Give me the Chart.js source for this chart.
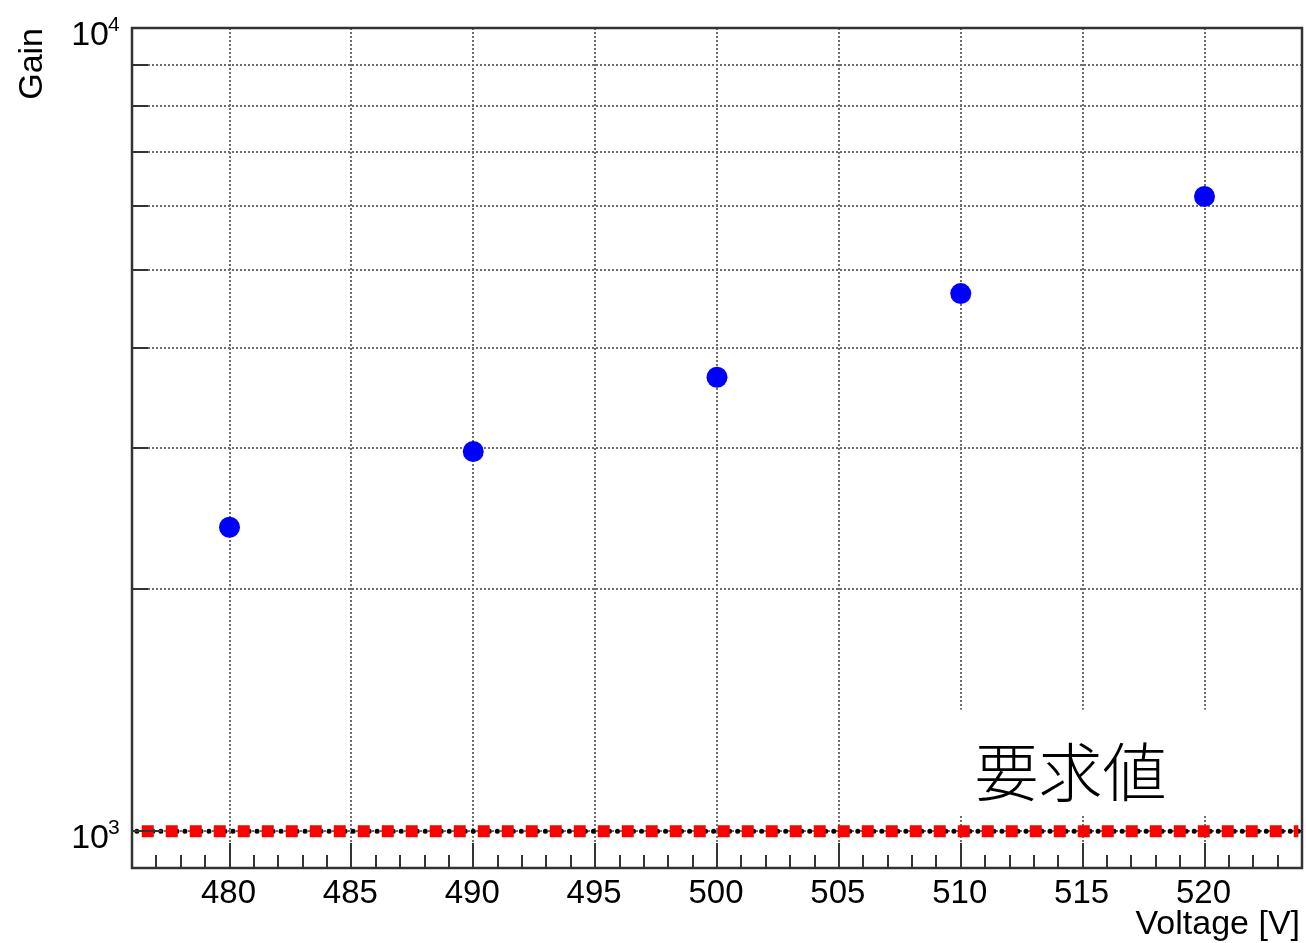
<!DOCTYPE html>
<html>
<head>
<meta charset="utf-8">
<script src="https://cdn.jsdelivr.net/npm/chart.js@4/dist/chart.umd.min.js"></script>
<style>
  html, body { margin: 0; padding: 0; background: #ffffff; }
  canvas { display: block; }
</style>
</head>
<body>
<canvas id="gainChart" width="1306" height="943"></canvas>
<script>
// Measured gain versus applied voltage
const voltages = [480, 490, 500, 510, 520];
const gains = [2390, 2970, 3675, 4670, 6170];

// Required gain level and the span of its marker line
const requiredGain = 1000;
const requiredSpan = [476.4, 523.85];
const requiredLabel = '要求値';

// Axis ranges and tick values
const xRange = [476, 524];
const yRange = [900, 10000];
const xMajorTicks = [480, 485, 490, 495, 500, 505, 510, 515, 520];
const xMinorTicks = [477, 478, 479, 481, 482, 483, 484, 486, 487, 488, 489, 491, 492, 493, 494,
  496, 497, 498, 499, 501, 502, 503, 504, 506, 507, 508, 509, 511, 512, 513, 514,
  516, 517, 518, 519, 521, 522, 523];
const yGridValues = [1000, 2000, 3000, 4000, 5000, 6000, 7000, 8000, 9000, 10000];
const yDecadeValues = [1000, 10000];
const yDecadeExponents = ['3', '4'];

const xTitle = 'Voltage [V]';
const yTitle = 'Gain';

const FONT = '"Liberation Sans", Arial, Helvetica, sans-serif';

// Label box region (in data units) that hides the grid behind the text
const labelBoxX = [509.5, 524];
const labelBoxY = [1045, 1417];
const labelPos = { x: 514.5, y: 1186 };

// Plot frame in canvas pixels
const frameBox = { left: 132, top: 28, right: 1302, bottom: 868 };

const decorations = {
  id: 'decorations',
  beforeDatasetsDraw(chart) {
    const { ctx, scales: { x, y } } = chart;
    ctx.save();
    ctx.fillStyle = '#ffffff';
    const l = x.getPixelForValue(labelBoxX[0]);
    const r = x.getPixelForValue(labelBoxX[1]);
    const t = y.getPixelForValue(labelBoxY[1]);
    const b = y.getPixelForValue(labelBoxY[0]);
    ctx.fillRect(l, t, r - l, b - t);
    ctx.restore();
  },
  afterDatasetsDraw(chart) {
    const { ctx, chartArea: a, scales: { x, y } } = chart;
    ctx.save();

    // ticks inside the frame
    ctx.strokeStyle = '#333333';
    ctx.lineWidth = 2;
    ctx.beginPath();
    xMajorTicks.forEach(v => {
      const px = Math.round(x.getPixelForValue(v));
      ctx.moveTo(px, a.bottom);
      ctx.lineTo(px, a.bottom - 25);
    });
    xMinorTicks.forEach(v => {
      const px = Math.round(x.getPixelForValue(v));
      ctx.moveTo(px, a.bottom);
      ctx.lineTo(px, a.bottom - 13);
    });
    yGridValues.forEach(v => {
      const py = Math.round(y.getPixelForValue(v));
      const len = yDecadeValues.includes(v) ? 30 : 16;
      ctx.moveTo(a.left, py);
      ctx.lineTo(a.left + len, py);
    });
    ctx.stroke();

    // frame
    ctx.strokeStyle = '#333333';
    ctx.lineWidth = 2.5;
    ctx.strokeRect(a.left, a.top, a.right - a.left, a.bottom - a.top);

    // x tick labels
    ctx.fillStyle = '#000000';
    ctx.font = '33px ' + FONT;
    ctx.textAlign = 'center';
    ctx.textBaseline = 'alphabetic';
    xMajorTicks.forEach(v => {
      ctx.fillText(String(v), x.getPixelForValue(v) - 1, a.bottom + 35);
    });

    // y decade labels with exponent
    yDecadeValues.forEach((v, i) => {
      const py = y.getPixelForValue(v);
      ctx.font = '34px ' + FONT;
      ctx.textAlign = 'right';
      ctx.fillText('10', 109, py + 16.5);
      ctx.font = '21px ' + FONT;
      ctx.textAlign = 'left';
      ctx.fillText(yDecadeExponents[i], 108, py + 2.5);
    });

    // axis titles
    ctx.font = '34px ' + FONT;
    ctx.textAlign = 'right';
    ctx.fillText(xTitle, 1300, 934);
    ctx.save();
    ctx.translate(42, a.top);
    ctx.rotate(-Math.PI / 2);
    ctx.textAlign = 'right';
    ctx.fillText(yTitle, 0, 0);
    ctx.restore();

    // required-level label
    ctx.font = '300 64px "Noto Sans CJK JP", "Noto Sans CJK SC", sans-serif';
    ctx.textAlign = 'center';
    ctx.textBaseline = 'middle';
    ctx.fillText(requiredLabel, x.getPixelForValue(labelPos.x), y.getPixelForValue(labelPos.y));

    ctx.restore();
  }
};

new Chart(document.getElementById('gainChart'), {
  type: 'scatter',
  data: {
    datasets: [
      {
        label: 'Gain',
        data: voltages.map((v, i) => ({ x: v, y: gains[i] })),
        backgroundColor: '#0000ff',
        borderColor: '#0000ff',
        pointRadius: 10.5,
        pointBorderWidth: 0,
        pointHoverRadius: 10.5
      },
      {
        label: 'required',
        data: requiredSpan.map(v => ({ x: v, y: requiredGain })),
        showLine: true,
        borderColor: '#ff0000',
        borderWidth: 12,
        borderDash: [12, 12],
        borderCapStyle: 'butt',
        pointRadius: 0
      },
      {
        label: 'required-guide',
        data: [xRange[0] + 0.2, xRange[1]].map(v => ({ x: v, y: requiredGain })),
        showLine: true,
        borderColor: '#000000',
        borderWidth: 5,
        borderDash: [0.01, 8],
        borderCapStyle: 'round',
        pointRadius: 0
      }
    ]
  },
  options: {
    responsive: false,
    animation: false,
    devicePixelRatio: 1,
    layout: {
      autoPadding: false,
      padding: { top: frameBox.top, right: 1306 - frameBox.right, left: 0, bottom: 0 }
    },
    plugins: {
      legend: { display: false },
      tooltip: { enabled: false }
    },
    scales: {
      x: {
        type: 'linear',
        min: xRange[0],
        max: xRange[1],
        afterBuildTicks: s => { s.ticks = xMajorTicks.map(v => ({ value: v })); },
        afterFit: s => { s.height = 943 - frameBox.bottom; },
        ticks: { display: false },
        grid: { color: '#6e6e6e', lineWidth: 2, drawTicks: false },
        border: { display: false, dash: [2, 2] }
      },
      y: {
        type: 'logarithmic',
        min: yRange[0],
        max: yRange[1],
        afterBuildTicks: s => { s.ticks = yGridValues.map(v => ({ value: v })); },
        afterFit: s => { s.width = frameBox.left; },
        ticks: { display: false },
        grid: { color: '#6e6e6e', lineWidth: 2, drawTicks: false },
        border: { display: false, dash: [2, 2] }
      }
    }
  },
  plugins: [decorations]
});
</script>
</body>
</html>
